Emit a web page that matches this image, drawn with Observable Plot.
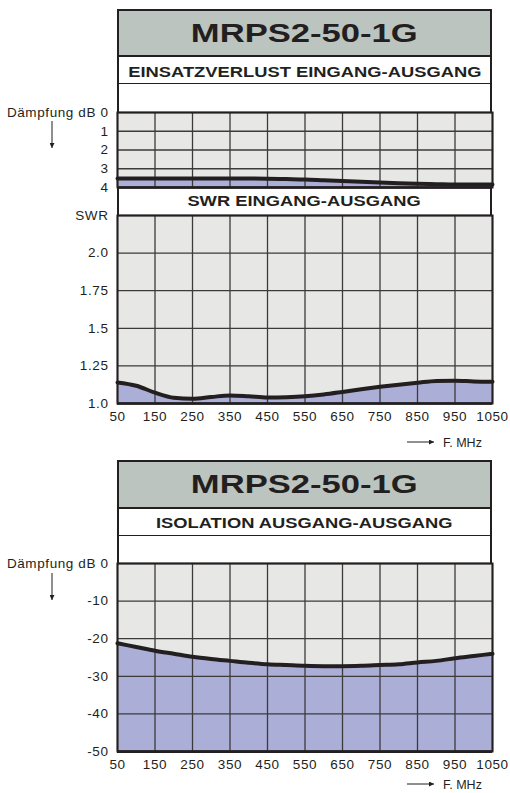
<!DOCTYPE html>
<html><head><meta charset="utf-8">
<script src="https://cdn.jsdelivr.net/npm/d3@7"></script>
<script src="https://cdn.jsdelivr.net/npm/@observablehq/plot@0.6"></script>
<style>
body{margin:0;background:#fff;}
#root{position:relative;width:510px;height:793px;overflow:hidden;font-family:"Liberation Sans",Arial,sans-serif;color:#231f20;background:#fff;}
.panel{position:absolute;left:117px;width:375px;box-sizing:border-box;border:2px solid #231f20;}
.band{position:absolute;left:117px;width:375px;box-sizing:border-box;display:flex;align-items:center;justify-content:center;border-left:2px solid #231f20;border-right:2px solid #231f20;}
.band span{display:inline-block;font-weight:bold;white-space:nowrap;}
.plotbox{position:absolute;left:0;}
</style></head>
<body><div id="root"></div>
<script>
// ---- data ----
const freq = [50,100,150,200,250,300,350,400,450,500,550,600,650,700,750,800,850,900,950,1000,1050];
const insertionLoss = [3.52,3.52,3.52,3.52,3.52,3.52,3.52,3.52,3.53,3.55,3.57,3.61,3.65,3.69,3.73,3.77,3.8,3.82,3.84,3.84,3.84];
const swr = [1.14,1.118,1.072,1.038,1.031,1.043,1.054,1.048,1.04,1.042,1.048,1.06,1.077,1.095,1.111,1.125,1.138,1.15,1.152,1.147,1.145];
const isolation = [-21.2,-22.2,-23.2,-24.0,-24.8,-25.4,-25.9,-26.4,-26.8,-27.0,-27.2,-27.3,-27.3,-27.2,-27.0,-26.8,-26.3,-25.9,-25.2,-24.6,-24.0];
const xTicks = [50,150,250,350,450,550,650,750,850,950,1050];
const ilTicks = [0,1,2,3,4];
const swrTicks = [1.0,1.25,1.5,1.75,2.0,2.25];
const isoTicks = [0,-10,-20,-30,-40,-50];
const panelTitle = "MRPS2-50-1G";
const ilTitle = "EINSATZVERLUST EINGANG-AUSGANG";
const swrTitle = "SWR EINGANG-AUSGANG";
const isoTitle = "ISOLATION AUSGANG-AUSGANG";
const yLabelDb = "Dämpfung dB";
const yLabelSwr = "SWR";
const xLabel = "F. MHz";

// ---- styles ----
const BG = "#e7e8e6", FILL = "#abaed7", GRID = "#3c3a3b", INK = "#231f20", HEAD = "#bcc4bf";
const curve = "monotone-x";
const svgStyle = {background:"transparent", fontFamily:"'Liberation Sans', Arial, sans-serif", fontSize:"13.5px", color:INK, letterSpacing:"0.6px", overflow:"visible"};

const root = document.getElementById("root");
function el(cls, css, html) {
  const d = document.createElement("div");
  d.className = cls; d.style.cssText = css; if (html != null) d.innerHTML = html;
  root.appendChild(d); return d;
}
function table(vals){ return freq.map((f,i)=>({f, v: vals[i]})); }
function place(svg, top){ const w=document.createElement("div"); w.className="plotbox"; w.style.top=top+"px"; w.appendChild(svg); root.appendChild(w); }

function chart({height, mt, mb, domain, reverse, ticks, fmt, data, base, showX}) {
  return Plot.plot({
    width:510, height, marginTop:mt, marginBottom:mb, marginLeft:117, marginRight:18,
    x:{domain:[50,1050]},
    y:{domain, reverse},
    style:svgStyle,
    marks:[
      Plot.frame({fill:BG, stroke:null}),
      Plot.areaY(data, {x:"f", y1:"v", y2:()=>base, fill:FILL, curve}),
      Plot.ruleX(xTicks, {stroke:GRID, strokeWidth:1.3}),
      Plot.ruleY(ticks, {stroke:GRID, strokeWidth:1.3}),
      Plot.lineY(data, {x:"f", y:"v", stroke:INK, strokeWidth:4, curve}),
      Plot.frame({stroke:INK, strokeWidth:2}),
      Plot.ruleY([base], {stroke:INK, strokeWidth:2.5}),
      Plot.axisY(ticks, {tickSize:0, tickPadding:9, tickFormat:fmt, label:null}),
      showX ? Plot.axisX(xTicks, {tickSize:0, tickPadding:8, tickFormat:d => String(d), label:null}) : Plot.axisX([], {label:null})
    ]
  });
}

// ---- panel 1 ----
el("panel", "top:9px;height:394px;");
el("band", `top:9px;height:48px;background:${HEAD};border:2px solid ${INK};`, `<span style="font-size:26px;transform:scaleX(1.33)">${panelTitle}</span>`);
el("band", `top:56px;height:28px;border-bottom:1.5px solid ${INK};padding-top:4px;`, `<span style="font-size:14px;transform:scaleX(1.31)">${ilTitle}</span>`);
el("band", `top:187px;height:28px;padding-bottom:1px;`, `<span style="font-size:14px;transform:scaleX(1.31)">${swrTitle}</span>`);

place(chart({height:100, mt:12, mb:13, domain:[0,4], reverse:true, ticks:ilTicks,
  fmt:d => d===0 ? `${yLabelDb} 0` : String(d), data:table(insertionLoss), base:4, showX:false}), 100);
place(chart({height:220, mt:10, mb:22, domain:[1,2.25], reverse:false, ticks:swrTicks,
  fmt:d => d===2.25 ? yLabelSwr : (d===1||d===2 ? d.toFixed(1) : String(d)), data:table(swr), base:1, showX:true}), 205);

// ---- panel 2 ----
el("panel", "top:460px;height:293px;");
el("band", `top:460px;height:49px;background:${HEAD};border:2px solid ${INK};`, `<span style="font-size:26px;transform:scaleX(1.33)">${panelTitle}</span>`);
el("band", `top:508px;height:28px;border-bottom:1.5px solid ${INK};padding-top:2px;`, `<span style="font-size:14px;transform:scaleX(1.31)">${isoTitle}</span>`);

place(chart({height:220, mt:10, mb:22, domain:[-50,0], reverse:false, ticks:isoTicks,
  fmt:d => d===0 ? `${yLabelDb} 0` : String(d), data:table(isolation), base:-50, showX:true}), 553);

// ---- decorations: arrows + frequency label ----
const ns = "http://www.w3.org/2000/svg";
const deco = document.createElementNS(ns, "svg");
deco.setAttribute("width", 510); deco.setAttribute("height", 793);
deco.style.cssText = "position:absolute;left:0;top:0;pointer-events:none;";
deco.innerHTML = `
  <defs><marker id="ah" viewBox="0 0 10 10" refX="10" refY="5" markerWidth="7" markerHeight="5" orient="auto-start-reverse" markerUnits="userSpaceOnUse">
  <path d="M0,0 L10,5 L0,10 z" fill="${INK}"/></marker></defs>
  <line x1="52" y1="121" x2="52" y2="148" stroke="${INK}" stroke-width="1" marker-end="url(#ah)"/>
  <line x1="52" y1="573" x2="52" y2="600" stroke="${INK}" stroke-width="1" marker-end="url(#ah)"/>
  <line x1="407" y1="442" x2="434" y2="442" stroke="${INK}" stroke-width="1" marker-end="url(#ah)"/>
  <line x1="407" y1="784" x2="434" y2="784" stroke="${INK}" stroke-width="1" marker-end="url(#ah)"/>
  <text x="443" y="446.5" font-family="'Liberation Sans', Arial" font-size="12.5" fill="${INK}">${xLabel}</text>
  <text x="443" y="788.5" font-family="'Liberation Sans', Arial" font-size="12.5" fill="${INK}">${xLabel}</text>`;
root.appendChild(deco);
</script></body></html>
